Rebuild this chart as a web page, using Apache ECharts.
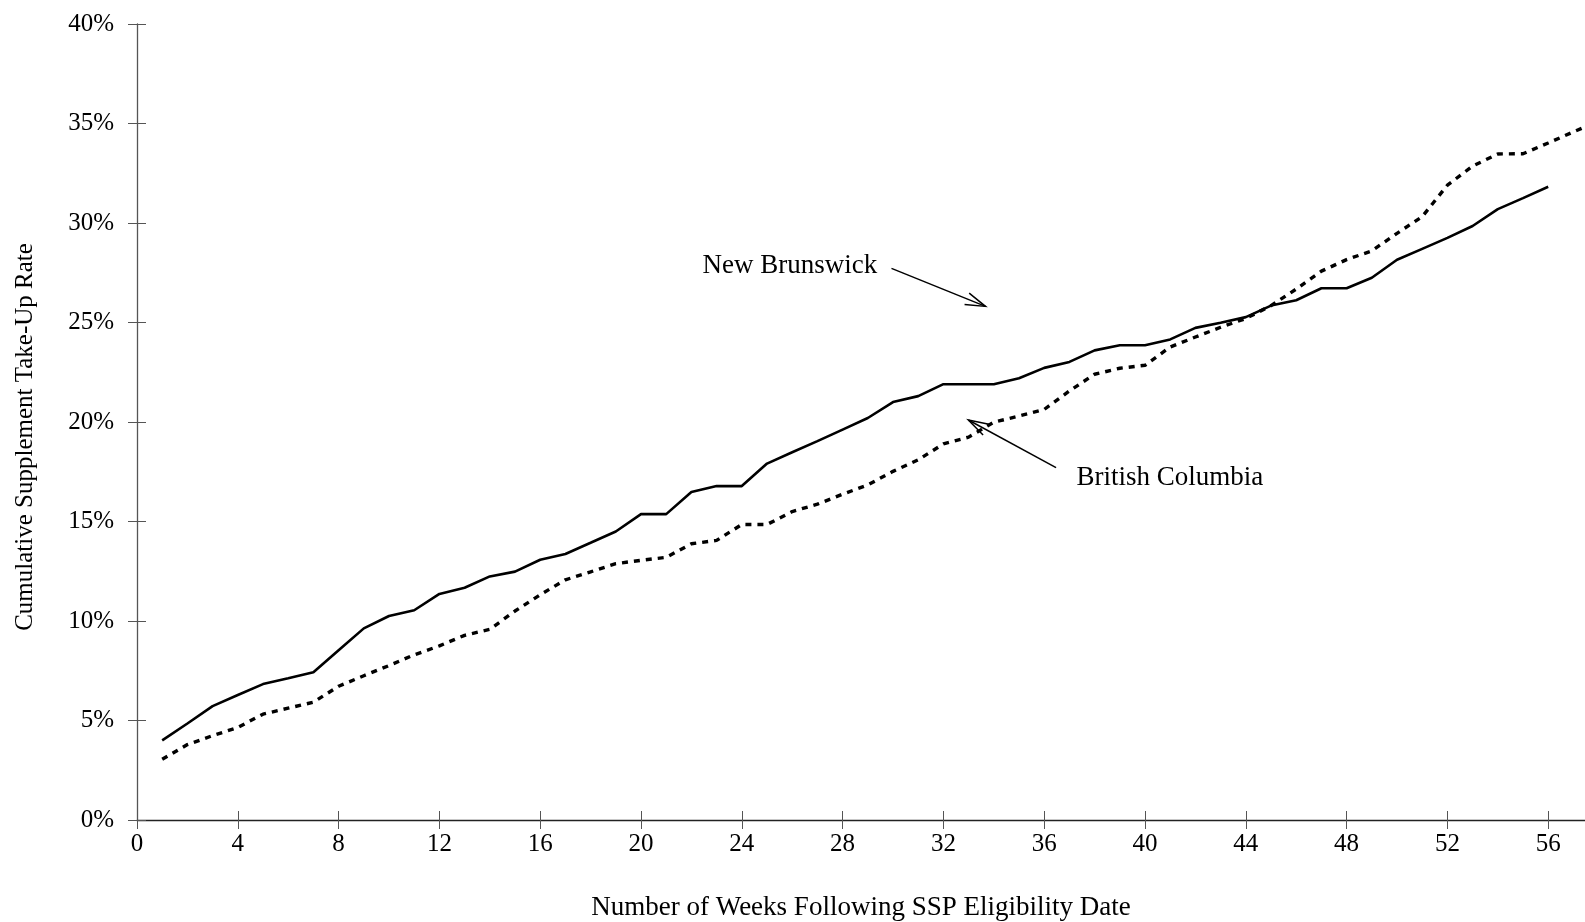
<!DOCTYPE html>
<html>
<head>
<meta charset="utf-8">
<script src="https://cdn.jsdelivr.net/npm/echarts@6/dist/echarts.min.js"></script>
<style>
html,body{margin:0;padding:0;background:#fff;}
#chart{width:1585px;height:922px;}
</style>
</head>
<body>
<div id="chart"></div>
<script>
// ---- data ----
const nbWeeks = [1,2,3,4,5,6,7,8,9,10,11,12,13,14,15,16,17,18,19,20,21,22,23,24,25,26,27,28,29,30,31,32,33,34,35,36,37,38,39,40,41,42,43,44,45,46,47,48,49,50,51,52,53,54,55,56];
const nbRate = [4.0,4.85,5.72,6.28,6.83,7.12,7.42,8.53,9.63,10.25,10.54,11.36,11.67,12.24,12.48,13.08,13.37,13.93,14.5,15.37,15.37,16.48,16.78,16.78,17.91,18.48,19.04,19.62,20.2,21.0,21.3,21.9,21.9,21.9,22.2,22.72,23.02,23.6,23.86,23.86,24.15,24.73,24.99,25.27,25.85,26.12,26.72,26.72,27.25,28.15,28.7,29.25,29.85,30.7,31.25,31.82];
const bcWeeks = [1,2,3,4,5,6,7,8,9,10,11,12,13,14,15,16,17,18,19,20,21,22,23,24,25,26,27,28,29,30,31,32,33,34,35,36,37,38,39,40,41,42,43,44,45,46,47,48,49,50,51,52,53,54,55,56,57,58];
const bcRate = [3.05,3.79,4.24,4.65,5.32,5.62,5.92,6.72,7.25,7.76,8.3,8.75,9.28,9.58,10.5,11.32,12.07,12.47,12.88,13.05,13.2,13.88,14.05,14.85,14.85,15.5,15.87,16.37,16.84,17.52,18.1,18.9,19.24,19.99,20.3,20.63,21.56,22.4,22.7,22.85,23.77,24.27,24.76,25.2,25.85,26.68,27.58,28.16,28.6,29.48,30.32,31.9,32.86,33.47,33.48,34.02,34.58,35.12];
const seriesNames = ['New Brunswick','British Columbia'];
const xTitle = 'Number of Weeks Following SSP Eligibility Date';
const yTitle = 'Cumulative Supplement Take-Up Rate';
// annotation anchors in data space: [textX, textY, tailX, tailY, tipX, tipY]
const nbNote = [29.37, 27.82, 29.94, 27.72, 33.67, 25.81];
const bcNote = [37.28, 17.21, 36.47, 17.71, 32.99, 20.10];

const FONT = '"Liberation Serif","Times New Roman",serif';
const FS = 25;
const FS2 = 27;
const chart = echarts.init(document.getElementById('chart'), null, {renderer:'canvas'});

const zip = (xs, ys) => xs.map((x, i) => [x, ys[i]]);

const xBase = {type:'value', min:0, max:57.46, interval:4};
const yBase = {type:'value', min:0, max:40, interval:5};

chart.setOption({
  animation:false,
  backgroundColor:'#fff',
  grid:{left:137, right:0, top:24, bottom:102, containLabel:false, outerBoundsMode:'none'},
  xAxis:[
    Object.assign({}, xBase, {
      name:xTitle, nameLocation:'middle', nameGap:74,
      nameTextStyle:{fontFamily:FONT, fontSize:FS2, color:'#000'},
      axisLine:{show:true, lineStyle:{color:'#222', width:1.3}},
      axisTick:{show:true, inside:false, length:9, lineStyle:{color:'#555', width:1}},
      axisLabel:{margin:12, fontFamily:FONT, fontSize:FS, color:'#000',
        formatter:v => (Math.abs(v % 4) < 1e-9 ? String(v) : '')},
      splitLine:{show:false}
    }),
    Object.assign({}, xBase, {
      position:'bottom',
      axisLine:{show:false},
      axisTick:{show:true, inside:true, length:9, lineStyle:{color:'#555', width:1}},
      axisLabel:{show:false}, splitLine:{show:false}
    })
  ],
  yAxis:[
    Object.assign({}, yBase, {
      axisLine:{show:true, lineStyle:{color:'#555', width:1.3}},
      axisTick:{show:true, inside:false, length:9, lineStyle:{color:'#555', width:1}},
      axisLabel:{margin:23, fontFamily:FONT, fontSize:FS, color:'#000', formatter:v => v + '%'},
      splitLine:{show:false}
    }),
    Object.assign({}, yBase, {
      position:'left',
      axisLine:{show:false},
      axisTick:{show:true, inside:true, length:9, lineStyle:{color:'#555', width:1}},
      axisLabel:{show:false}, splitLine:{show:false}
    })
  ],
  series:[
    {name:seriesNames[0], type:'line', data:zip(nbWeeks, nbRate), showSymbol:false, symbol:'none',
     clip:true, lineStyle:{color:'#000', width:2.6, type:'solid'}},
    {name:seriesNames[1], type:'line', data:zip(bcWeeks, bcRate), showSymbol:false, symbol:'none',
     clip:true, lineStyle:{color:'#000', width:3.4, type:[6,6]}}
  ]
});

function arrowElems(tail, tip){
  const dx = tip[0]-tail[0], dy = tip[1]-tail[1];
  const a = Math.atan2(dy, dx);
  const L = 21, h = 17*Math.PI/180;
  const b1 = [tip[0]-L*Math.cos(a-h), tip[1]-L*Math.sin(a-h)];
  const b2 = [tip[0]-L*Math.cos(a+h), tip[1]-L*Math.sin(a+h)];
  const st = {stroke:'#000', lineWidth:1.5, fill:null};
  return [
    {type:'line', shape:{x1:tail[0], y1:tail[1], x2:tip[0], y2:tip[1]}, style:st},
    {type:'polyline', shape:{points:[b1, tip, b2]}, style:st}
  ];
}
const px = p => chart.convertToPixel({xAxisIndex:0, yAxisIndex:0}, p);
const nbText = px([nbNote[0], nbNote[1]]);
const bcText = px([bcNote[0], bcNote[1]]);
const elems = [
  {type:'text', x:nbText[0], y:nbText[1], style:{text:seriesNames[0], font:FS2+'px '+FONT, fill:'#000', align:'right', verticalAlign:'middle'}},
  {type:'text', x:bcText[0], y:bcText[1], style:{text:seriesNames[1], font:FS2+'px '+FONT, fill:'#000', align:'left', verticalAlign:'middle'}},
  {type:'text', x:25, y:437, rotation:Math.PI/2, style:{text:yTitle, font:FS+'px '+FONT, fill:'#000', align:'center', verticalAlign:'middle'}}
].concat(arrowElems(px([nbNote[2], nbNote[3]]), px([nbNote[4], nbNote[5]])))
 .concat(arrowElems(px([bcNote[2], bcNote[3]]), px([bcNote[4], bcNote[5]])));
chart.setOption({graphic:{elements:elems}});
</script>
</body>
</html>
